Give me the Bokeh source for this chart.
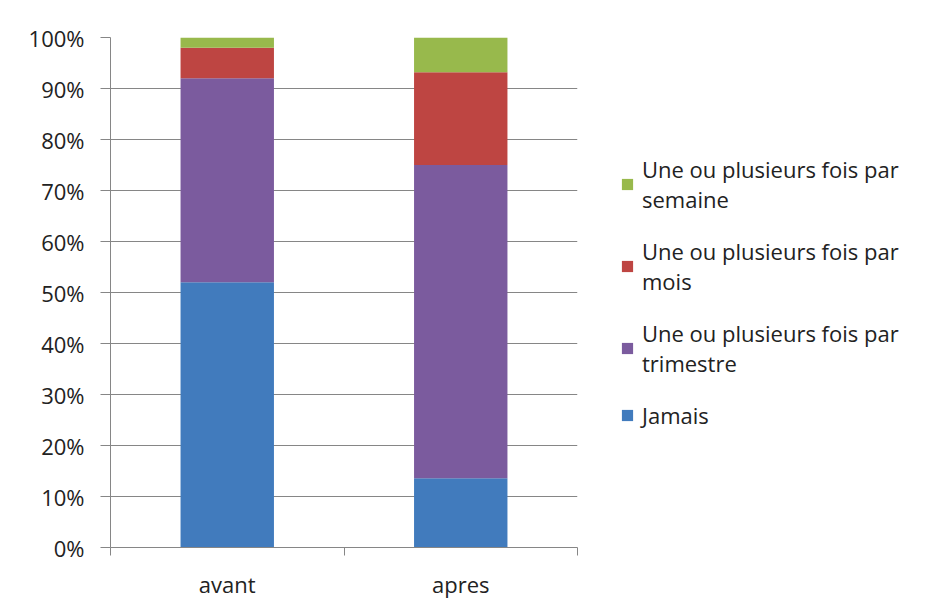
from bokeh.plotting import figure
from bokeh.models import (Legend, LegendItem, FixedTicker, Range1d, ColumnDataSource,
                          NumeralTickFormatter)
from bokeh.embed import file_html
from bokeh.resources import INLINE

categories = ["avant", "apres"]
series_names = ["Jamais",
                "Une ou plusieurs fois par\ntrimestre",
                "Une ou plusieurs fois par\nmois",
                "Une ou plusieurs fois par\nsemaine"]
jamais = [0.52, 0.136]
trimestre = [0.40, 0.614]
mois = [0.06, 0.182]
semaine = [0.02, 0.068]
colors = ["#417BBD", "#7B5B9E", "#BE4542", "#98B94C"]
y_ticks = [0, 0.1, 0.2, 0.3, 0.4, 0.5, 0.6, 0.7, 0.8, 0.9, 1.0]

FONT = "Open Sans"
FS = "22px"
keys = ["jamais", "trimestre", "mois", "semaine"]
xpos = [i + 0.5 for i in range(len(categories))]
source = ColumnDataSource(dict(x=xpos, jamais=jamais, trimestre=trimestre,
                               mois=mois, semaine=semaine))

p = figure(frame_width=467, frame_height=510, output_backend="svg",
           toolbar_location=None, x_range=Range1d(0, len(categories)),
           y_range=Range1d(0, 1))
p.min_border_left = 110
p.min_border_top = 37
p.min_border_bottom = 58
p.min_border_right = 10
p.outline_line_color = None
p.background_fill_color = "white"
p.border_fill_color = "white"

renderers = p.vbar_stack(keys, x="x", width=0.4, source=source, color=colors,
                         line_color=None)

# axes
p.xaxis.ticker = FixedTicker(ticks=xpos, minor_ticks=list(range(len(categories) + 1)))
p.xaxis.major_label_overrides = {x: c for x, c in zip(xpos, categories)}
p.xaxis.major_tick_line_color = None
p.xaxis.minor_tick_in = 0
p.xaxis.minor_tick_out = 8
p.xaxis.minor_tick_line_color = "#868686"
p.xaxis.axis_line_color = "#868686"
p.xaxis.major_label_standoff = 13
p.xaxis.major_label_text_font = FONT
p.xaxis.major_label_text_font_size = FS
p.xaxis.major_label_text_color = "#222222"

p.yaxis.ticker = FixedTicker(ticks=y_ticks)
p.yaxis.formatter = NumeralTickFormatter(format="0%")
p.yaxis.axis_line_color = "#868686"
p.yaxis.major_tick_line_color = "#868686"
p.yaxis.major_tick_in = 0
p.yaxis.major_tick_out = 10
p.yaxis.minor_tick_line_color = None
p.yaxis.major_label_standoff = 16
p.yaxis.major_label_text_font = FONT
p.yaxis.major_label_text_font_size = FS
p.yaxis.major_label_text_color = "#222222"

p.xgrid.grid_line_color = None
p.ygrid.grid_line_color = "#868686"
p.ygrid.ticker = FixedTicker(ticks=y_ticks)

items = [LegendItem(label=series_names[i], renderers=[renderers[i]])
         for i in reversed(range(len(series_names)))]
legend = Legend(items=items, location="center_left", border_line_color=None,
                background_fill_alpha=0, padding=0, margin=43, spacing=22,
                glyph_width=14, glyph_height=14, label_standoff=8,
                label_text_font=FONT, label_text_font_size=FS,
                label_text_line_height=1.5, label_text_color="#222222")
p.add_layout(legend, "right")

open("out.html", "w").write(file_html(p, INLINE))
